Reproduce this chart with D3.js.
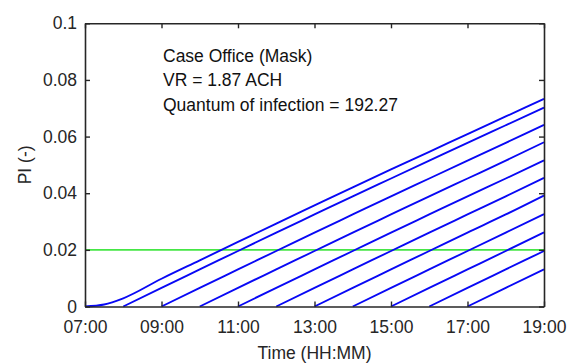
<!DOCTYPE html>
<html>
<head>
<meta charset="utf-8">
<script src="https://cdn.jsdelivr.net/npm/d3@7"></script>
<style>
  html, body { margin: 0; padding: 0; background: #fff; }
  svg { display: block; font-family: "Liberation Sans", Arial, Helvetica, sans-serif; }
</style>
</head>
<body>
<svg id="chart" width="568" height="363"></svg>
<script>
// Arrival hour of each occupant (hours after midnight)
const startHours = [7, 8, 9, 10, 11, 12, 13, 14, 15, 16, 17];

// First occupant arrives with the infector, so the curve starts flat; sampled at these hours
const pi0700Hours = [7, 7.5, 8, 9, 10, 11, 12, 13, 14, 15, 16, 17, 18, 19];
const pi0700 = [0, 0.0007, 0.0029, 0.0098, 0.0163, 0.0228, 0.0293, 0.0357, 0.0421, 0.0484, 0.0546, 0.0609, 0.0671, 0.0733];

// Later arrivals, probability of infection sampled every hour from arrival until 19:00
const pi0800 = [0, 0.0066, 0.0131, 0.0196, 0.0261, 0.0325, 0.0389, 0.0452, 0.0515, 0.0578, 0.0640, 0.0702];
const pi0900 = [0, 0.0066, 0.0131, 0.0196, 0.0261, 0.0325, 0.0389, 0.0452, 0.0515, 0.0578, 0.0641];
const pi1000 = [0, 0.0066, 0.0131, 0.0196, 0.0261, 0.0325, 0.0389, 0.0452, 0.0515, 0.0580];
const pi1100 = [0, 0.0066, 0.0131, 0.0196, 0.0261, 0.0325, 0.0389, 0.0452, 0.0516];
const pi1200 = [0, 0.0066, 0.0131, 0.0196, 0.0261, 0.0325, 0.0389, 0.0454];
const pi1300 = [0, 0.0066, 0.0131, 0.0196, 0.0261, 0.0325, 0.0392];
const pi1400 = [0, 0.0066, 0.0131, 0.0196, 0.0261, 0.0326];
const pi1500 = [0, 0.0066, 0.0131, 0.0196, 0.0262];
const pi1600 = [0, 0.0066, 0.0131, 0.0196];
const pi1700 = [0, 0.0066, 0.0131];
const laterSeries = [pi0800, pi0900, pi1000, pi1100, pi1200, pi1300, pi1400, pi1500, pi1600, pi1700];

// Acceptable-risk threshold
const threshold = 0.02;

// Axis ticks
const xTicks = [7, 9, 11, 13, 15, 17, 19];
const xTickLabels = ["07:00", "09:00", "11:00", "13:00", "15:00", "17:00", "19:00"];
const yTicks = [0, 0.02, 0.04, 0.06, 0.08, 0.1];
const yTickLabels = ["0", "0.02", "0.04", "0.06", "0.08", "0.1"];

// Annotation lines
const annotation = ["Case Office (Mask)", "VR = 1.87 ACH", "Quantum of infection = 192.27"];

const svg = d3.select("#chart");
const ink = "#262626";
const fontSize = 17.5;

const x = d3.scaleLinear().domain([7, 19]).range([85, 544]);
const y = d3.scaleLinear().domain([0, 0.1]).range([306.5, 23.3]);

// Threshold line
svg.append("line")
  .attr("x1", x(7)).attr("x2", x(19))
  .attr("y1", y(threshold)).attr("y2", y(threshold))
  .attr("stroke", "#45e645").attr("stroke-width", 1.7);

// Probability curves
const line = d3.line().x(d => x(d[0])).y(d => y(d[1])).curve(d3.curveMonotoneX);
const curves = [pi0700Hours.map((h, k) => [h, pi0700[k]])]
  .concat(laterSeries.map((vals, i) => vals.map((v, k) => [startHours[i + 1] + k, v])));

svg.append("g").attr("fill", "none").attr("stroke", "#0808f5")
  .attr("stroke-width", 1.9).attr("stroke-linejoin", "round")
  .selectAll("path").data(curves).join("path")
  .attr("d", line);

// Axes with inward ticks on all four sides
const tickLen = 5;
const xAxis = d3.axisBottom(x).tickValues(xTicks)
  .tickFormat((d, i) => xTickLabels[i]).tickSizeInner(-tickLen).tickSizeOuter(0).tickPadding(14);
const yAxis = d3.axisLeft(y).tickValues(yTicks)
  .tickFormat((d, i) => yTickLabels[i]).tickSizeInner(-tickLen).tickSizeOuter(0).tickPadding(8);
const xTop = d3.axisTop(x).tickValues(xTicks).tickFormat("").tickSizeInner(-tickLen).tickSizeOuter(0);
const yRight = d3.axisRight(y).tickValues(yTicks).tickFormat("").tickSizeInner(-tickLen).tickSizeOuter(0);

function styleAxis(g) {
  g.selectAll(".domain").attr("stroke", ink).attr("stroke-width", 1.6);
  g.selectAll(".tick line").attr("stroke", ink).attr("stroke-width", 1.4);
  g.selectAll(".tick text").attr("fill", ink).style("font-size", fontSize + "px");
  g.attr("font-family", null).attr("font-size", null);
}

svg.append("g").attr("transform", `translate(0,${y(0)})`).call(xAxis).call(styleAxis);
svg.append("g").attr("transform", `translate(${x(7)},0)`).call(yAxis).call(styleAxis);
svg.append("g").attr("transform", `translate(0,${y(0.1)})`).call(xTop).call(styleAxis);
svg.append("g").attr("transform", `translate(${x(19)},0)`).call(yRight).call(styleAxis);

// Axis titles
svg.append("text")
  .attr("x", (x(7) + x(19)) / 2).attr("y", 359)
  .attr("text-anchor", "middle").attr("fill", ink).style("font-size", fontSize + "px")
  .text("Time (HH:MM)");

svg.append("text")
  .attr("transform", `translate(31,${(y(0) + y(0.1)) / 2}) rotate(-90)`)
  .attr("text-anchor", "middle").attr("fill", ink).style("font-size", fontSize + "px")
  .text("PI (-)");

// Case annotation
svg.append("g").selectAll("text").data(annotation).join("text")
  .attr("x", 163).attr("y", (d, i) => 62 + i * 24.3)
  .attr("fill", "#111").style("font-size", fontSize + "px")
  .text(d => d);
</script>
</body>
</html>
